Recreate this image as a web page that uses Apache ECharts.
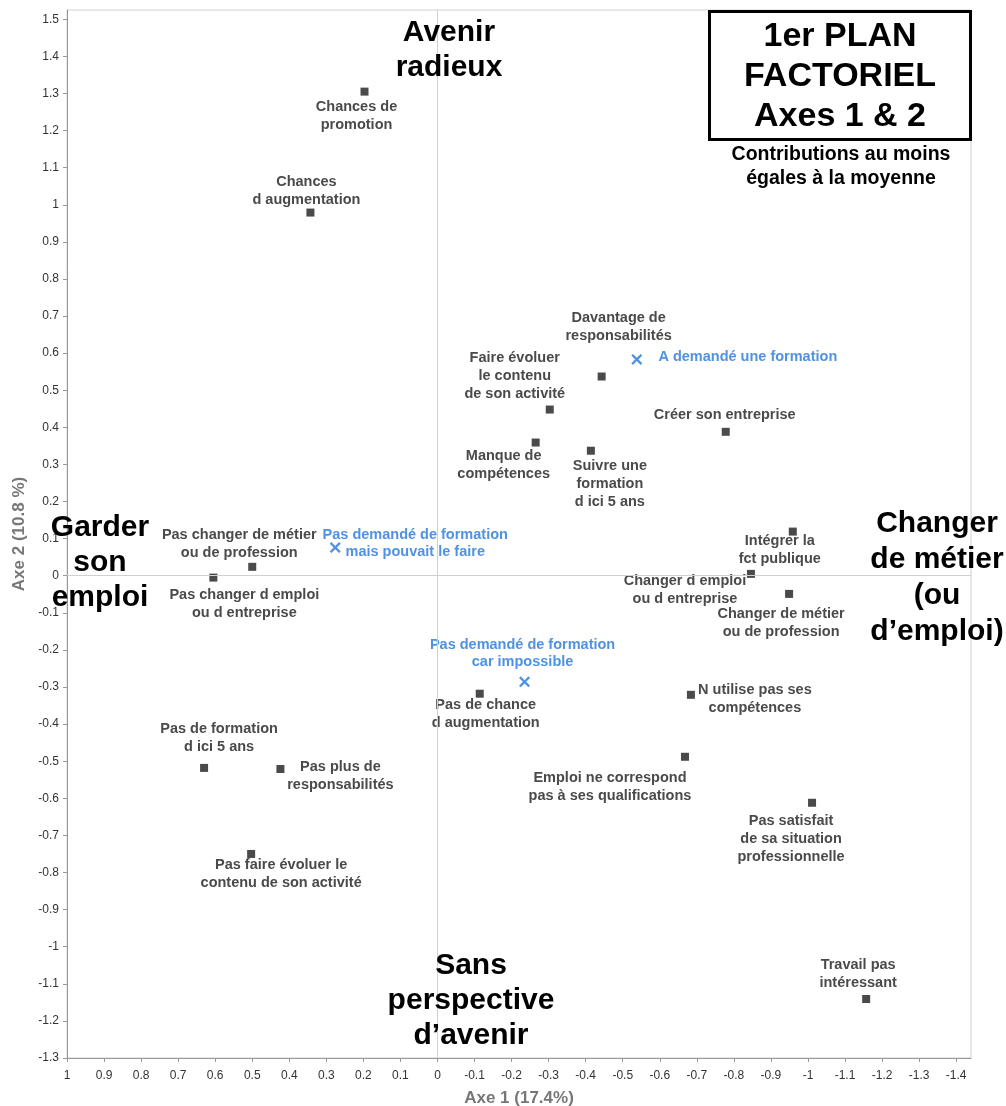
<!DOCTYPE html>
<html>
<head>
<meta charset="utf-8">
<title>1er plan factoriel</title>
<script src="https://cdn.jsdelivr.net/npm/echarts@6/dist/echarts.min.js"></script>
<style>
  html, body { margin: 0; padding: 0; background: #fff; }
  #main { width: 1006px; height: 1106px; }
</style>
</head>
<body>
<div id="main"></div>
<script>
// modalités (carrés gris)
const itemNames = [
  'Chances de\npromotion', 'Chances\nd augmentation', 'Davantage de\nresponsabilités',
  'Faire évoluer\nle contenu\nde son activité', 'Manque de\ncompétences', 'Suivre une\nformation\nd ici 5 ans',
  'Créer son entreprise', 'Intégrer la\nfct publique', 'Changer d emploi\nou d entreprise',
  'Changer de métier\nou de profession', 'Pas changer de métier\nou de profession', 'Pas changer d emploi\nou d entreprise',
  'Pas de chance\nd augmentation', 'N utilise pas ses\ncompétences', 'Emploi ne correspond\npas à ses qualifications',
  'Pas satisfait\nde sa situation\nprofessionnelle', 'Travail pas\nintéressant', 'Pas de formation\nd ici 5 ans',
  'Pas plus de\nresponsabilités', 'Pas faire évoluer le\ncontenu de son activité'
];
const itemAxe1 = [0.197, 0.343, -0.443, -0.303, -0.265, -0.414, -0.778, -0.959, -0.846, -0.949,
  0.500, 0.605, -0.114, -0.684, -0.668, -1.011, -1.157, 0.630, 0.424, 0.503];
const itemAxe2 = [1.305, 0.979, 0.537, 0.448, 0.359, 0.337, 0.388, 0.119, 0.005, -0.049,
  0.024, -0.005, -0.318, -0.321, -0.488, -0.612, -1.141, -0.518, -0.521, -0.750];

// variable formation (croix bleues)
const formNames = ['A demandé une formation', 'Pas demandé de formation\nmais pouvait le faire', 'Pas demandé de formation\ncar impossible'];
const formAxe1 = [-0.538, 0.276, -0.235];
const formAxe2 = [0.583, 0.076, -0.286];

const xTicks = [1, 0.9, 0.8, 0.7, 0.6, 0.5, 0.4, 0.3, 0.2, 0.1, 0, -0.1, -0.2, -0.3, -0.4, -0.5, -0.6, -0.7, -0.8, -0.9, -1, -1.1, -1.2, -1.3, -1.4];
const yTicks = [-1.3, -1.2, -1.1, -1, -0.9, -0.8, -0.7, -0.6, -0.5, -0.4, -0.3, -0.2, -0.1, 0, 0.1, 0.2, 0.3, 0.4, 0.5, 0.6, 0.7, 0.8, 0.9, 1, 1.1, 1.2, 1.3, 1.4, 1.5];

// décalage des étiquettes (px) par rapport au point
const itemLabelOffset = [[-8, 24], [-4, -22], [17, -50], [-35, -34], [-32, 22], [19, 33], [-1, -17], [-13, 18], [-66, 16], [-8, 29],
  [-13, -23], [31, 26], [6, 20], [64, 4], [-75, 30], [-21, 36], [-8, -25], [15, -30], [60, 7], [30, 20]];
const formLabelOffset = [[111, -2], [80, -4], [-2, -28]];

const font = '"Liberation Sans", Arial, Helvetica, sans-serif';
const grey = '#4a4a4a';
const blue = '#4f92e3';
const cross = 'path://M0,1.5L1.5,0L5,3.5L8.5,0L10,1.5L6.5,5L10,8.5L8.5,10L5,6.5L1.5,10L0,8.5L3.5,5Z';

let myChart = echarts.init(document.getElementById('main'));

let items = itemNames.map((n, i) => ({
  name: n,
  value: [itemAxe1[i], itemAxe2[i]],
  label: { offset: itemLabelOffset[i] }
}));
let forms = formNames.map((n, i) => ({
  name: n,
  value: [formAxe1[i], formAxe2[i]],
  label: { offset: formLabelOffset[i] }
}));

function bigText(text, x, y, size, lh) {
  return {
    type: 'text',
    x: x,
    y: y,
    z: 100,
    style: {
      text: text,
      fill: '#000',
      font: 'bold ' + size + 'px ' + font,
      align: 'center',
      verticalAlign: 'top',
      lineHeight: lh
    }
  };
}

let option = {
  animation: false,
  textStyle: { fontFamily: font },
  grid: {
    left: 67, right: 35, top: 10, bottom: 48,
    outerBoundsMode: 'none',
    containLabel: false,
    show: true, borderColor: '#d0d0d0', borderWidth: 1
  },
  xAxis: {
    type: 'value',
    inverse: true,
    min: -1.44,
    max: 1,
    name: 'Axe 1 (17.4%)',
    nameLocation: 'middle',
    nameGap: 32,
    nameTextStyle: { color: '#777', fontWeight: 'bold', fontSize: 17 },
    axisLine: { show: true, onZero: false, lineStyle: { color: '#999' } },
    axisTick: { show: true, length: 4, customValues: xTicks, lineStyle: { color: '#999' } },
    axisLabel: { customValues: xTicks, color: '#333', fontSize: 12, margin: 12 },
    splitLine: { show: false }
  },
  yAxis: {
    type: 'value',
    min: -1.3,
    max: 1.525,
    name: 'Axe 2 (10.8 %)',
    nameLocation: 'middle',
    nameGap: 37,
    nameTextStyle: { color: '#777', fontWeight: 'bold', fontSize: 17 },
    axisLine: { show: true, onZero: false, lineStyle: { color: '#999' } },
    axisTick: { show: true, length: 4, customValues: yTicks, lineStyle: { color: '#999' } },
    axisLabel: { customValues: yTicks, color: '#333', fontSize: 12, margin: 8 },
    splitLine: { show: false }
  },
  series: [
    {
      name: 'modalites',
      type: 'scatter',
      symbol: 'rect',
      symbolSize: 8,
      itemStyle: { color: '#4a4a4a', opacity: 1 },
      label: {
        show: true,
        position: 'inside',
        formatter: p => p.name,
        color: grey,
        fontWeight: 'bold',
        fontSize: 14.5,
        lineHeight: 18,
        align: 'center',
        verticalAlign: 'middle'
      },
      data: items,
      markLine: {
        silent: true,
        symbol: 'none',
        label: { show: false },
        lineStyle: { color: '#d0d0d0', width: 1, type: 'solid' },
        data: [{ xAxis: 0 }, { yAxis: 0 }]
      }
    },
    {
      name: 'formation',
      type: 'scatter',
      symbol: cross,
      symbolSize: 11,
      itemStyle: { color: blue, opacity: 1 },
      label: {
        show: true,
        position: 'inside',
        formatter: p => p.name,
        color: blue,
        fontWeight: 'bold',
        fontSize: 14.5,
        lineHeight: 17,
        align: 'center',
        verticalAlign: 'middle'
      },
      data: forms
    }
  ],
  graphic: [
    bigText('Avenir\nradieux', 449, 15, 30, 35),
    bigText('Garder\nson\nemploi', 100, 510, 30, 35),
    bigText('Changer\nde métier\n(ou\nd’emploi)', 937, 506, 30, 36),
    bigText('Sans\nperspective\nd’avenir', 471, 948, 30, 35),
    {
      type: 'rect',
      z: 99,
      shape: { x: 709.5, y: 11.5, width: 261, height: 128 },
      style: { fill: '#fff', stroke: '#000', lineWidth: 3 }
    },
    bigText('1er PLAN\nFACTORIEL\nAxes 1 & 2', 840, 17, 34, 40),
    bigText('Contributions au moins\négales à la moyenne', 841, 143, 19.5, 24)
  ]
};

myChart.setOption(option, true);
</script>
</body>
</html>
